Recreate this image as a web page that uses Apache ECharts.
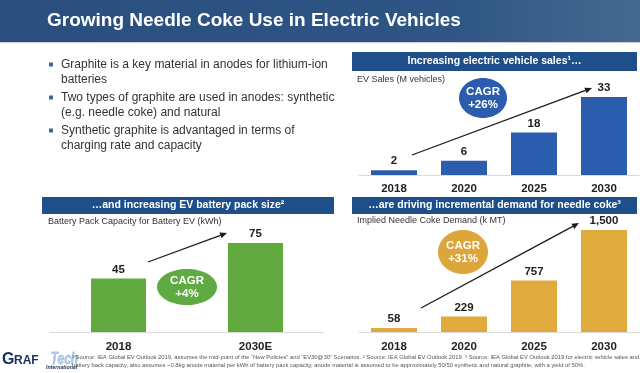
<!DOCTYPE html>
<html><head><meta charset="utf-8">
<script src="https://cdn.jsdelivr.net/npm/echarts@6/dist/echarts.min.js"></script>
<style>html,body{margin:0;padding:0;background:#fff}#c{width:640px;height:373px}</style>
</head><body><div id="c"></div>
<script>
// ---- data ----
const evYears = ['2018','2020','2025','2030'];
const evSales = [2, 6, 18, 33];
const packYears = ['2018','2030E'];
const packKwh = [45, 75];
const cokeYears = ['2018','2020','2025','2030'];
const cokeDemand = [58, 229, 757, 1500];
const evCagr = '+26%';
const packCagr = '+4%';
const cokeCagr = '+31%';
const bullets = [
  ['Graphite is a key material in anodes for lithium-ion', 'batteries'],
  ['Two types of graphite are used in anodes: synthetic', '(e.g. needle coke) and natural'],
  ['Synthetic graphite is advantaged in terms of', 'charging rate and capacity']
];
const footnote1 = '\u00b9 Source: IEA Global EV Outlook 2019, assumes the mid-point of the \u201cNew Policies\u201d and \u201cEV30@30\u201d Scenarios. \u00b2 Source: IEA Global EV Outlook 2019. \u00b3 Source: IEA Global EV Outlook 2019 for electric vehicle sales and';
const footnote2 = 'battery back capacity, also assumes ~0.8kg anode material per kWh of battery pack capacity, anode material is assumed to be approximately 50/50 synthetic and natural graphite, with a yield of 50%.';

const FONT = 'Liberation Sans, Arial, sans-serif';
const chart = echarts.init(document.getElementById('c'), null, {renderer:'canvas'});

function arrow(x1,y1,x2,y2){
  const a = Math.atan2(y2-y1,x2-x1), L=7, W=3;
  const bx = x2 - L*Math.cos(a), by = y2 - L*Math.sin(a);
  const px = -Math.sin(a)*W, py = Math.cos(a)*W;
  return [
    {type:'line', shape:{x1:x1,y1:y1,x2:bx,y2:by}, style:{stroke:'#1a1a1a', lineWidth:1.3}},
    {type:'polygon', shape:{points:[[x2,y2],[bx+px,by+py],[bx-px,by-py]]}, style:{fill:'#1a1a1a'}}
  ];
}
function header(x,y,w,h,text){
  return [
    {type:'rect', shape:{x:x,y:y,width:w,height:h}, style:{fill:'#1f4f8b'}},
    {type:'text', x:x+w/2, y:y+h/2, style:{text:text, fill:'#fff', font:'bold 10.5px '+FONT, textAlign:'center', textVerticalAlign:'middle'}}
  ];
}
function ellipse(cx,cy,rx,ry,color,val){
  return [
    {type:'ellipse', shape:{cx:cx,cy:cy,rx:rx,ry:ry}, style:{fill:color}},
    {type:'text', x:cx, y:cy-6.5, style:{text:'CAGR', fill:'#fff', font:'bold 11.5px '+FONT, textAlign:'center', textVerticalAlign:'middle'}},
    {type:'text', x:cx, y:cy+7, style:{text:val, fill:'#fff', font:'bold 11.5px '+FONT, textAlign:'center', textVerticalAlign:'middle'}}
  ];
}

const g = [];
// title banner
g.push({type:'rect', shape:{x:0,y:0,width:640,height:42}, style:{fill:new echarts.graphic.LinearGradient(0,0,1,0,[{offset:0,color:'#2a4f7e'},{offset:0.7,color:'#2e5584'},{offset:1,color:'#46698f'}])}});
g.push({type:'rect', shape:{x:0,y:42,width:640,height:1}, style:{fill:'#c9d0d9'}});
g.push({type:'text', x:47, y:21, style:{text:'Growing Needle Coke Use in Electric Vehicles', fill:'#fff', font:'bold 19px '+FONT, textVerticalAlign:'middle'}});
// bullets
const lineY = [[65,80],[98,113],[131,146]];
bullets.forEach((b,i)=>{
  g.push({type:'rect', shape:{x:49,y:lineY[i][0]-2.5,width:4,height:4}, style:{fill:'#3c66a3'}});
  b.forEach((t,j)=>g.push({type:'text', x:61, y:lineY[i][j], style:{text:t, fill:'#333', font:'12px '+FONT, textVerticalAlign:'middle'}}));
});
// section headers
g.push(...header(352,52,285,19,'Increasing electric vehicle sales\u00b9\u2026'));
g.push(...header(42,197,292,17,'\u2026and increasing EV battery pack size\u00b2'));
g.push(...header(352,197,285,17,'\u2026are driving incremental demand for needle coke\u00b3'));
// subtitles
g.push({type:'text', x:357, y:80, style:{text:'EV Sales (M vehicles)', fill:'#333', font:'9px '+FONT, textVerticalAlign:'middle'}});
g.push({type:'text', x:48, y:222, style:{text:'Battery Pack Capacity for Battery EV (kWh)', fill:'#333', font:'9px '+FONT, textVerticalAlign:'middle'}});
g.push({type:'text', x:357, y:221, style:{text:'Implied Needle Coke Demand (k MT)', fill:'#333', font:'9px '+FONT, textVerticalAlign:'middle'}});
// arrows & ellipses
g.push(...arrow(412,155,592,88));
g.push(...ellipse(483,98,24,20,'#2b5cad',evCagr));
g.push(...arrow(148,262,227,233));
g.push(...ellipse(187,287,30,18,'#5fab41',packCagr));
g.push(...arrow(421,308,579,223));
g.push(...ellipse(463,252,25,22,'#dca63a',cokeCagr));
// logo
g.push({type:'text', x:2, y:360, style:{text:'G', fill:'#1b2f5c', font:'900 16px '+FONT, textVerticalAlign:'middle'}});
g.push({type:'text', x:14, y:361, style:{text:'RAF', fill:'#1b2f5c', font:'900 12px '+FONT, textVerticalAlign:'middle'}});
g.push({type:'text', x:39, y:359, scaleX:0.7, originX:39, originY:359, style:{text:'Tech', fill:'#b3cbe6', stroke:'#6f93bd', lineWidth:0.5, font:'italic bold 17px '+FONT, textVerticalAlign:'middle'}});
g.push({type:'text', x:46, y:368, style:{text:'International', fill:'#1b2f5c', font:'italic bold 5.2px '+FONT, textVerticalAlign:'middle'}});
// footnotes
g.push({type:'text', x:72, y:357, style:{text:footnote1, fill:'#555', font:'5.85px '+FONT, textVerticalAlign:'middle'}});
g.push({type:'text', x:72, y:365, style:{text:footnote2, fill:'#555', font:'5.85px '+FONT, textVerticalAlign:'middle'}});

const barLabel = {show:true, position:'top', distance:3, color:'#222', fontFamily:FONT, fontWeight:'bold', fontSize:11.5};
const xCommon = {type:'category', axisTick:{show:false}, axisLine:{lineStyle:{color:'#d9d9d9', width:1}},
  axisLabel:{color:'#222', fontFamily:FONT, fontWeight:'bold', fontSize:11.5, margin:8}};
const yCommon = {type:'value', min:0, show:false, splitLine:{show:false}};

chart.setOption({
  animation:false,
  grid:[
    {left:359, width:280, top:80.5, height:94.5},
    {left:50, width:274, top:213.3, height:118.7},
    {left:359, width:280, top:196, height:136}
  ],
  xAxis:[
    Object.assign({gridIndex:0, data:evYears}, xCommon),
    Object.assign({gridIndex:1, data:packYears}, xCommon, {axisLabel:Object.assign({}, xCommon.axisLabel, {margin:9})}),
    Object.assign({gridIndex:2, data:cokeYears}, xCommon, {axisLabel:Object.assign({}, xCommon.axisLabel, {margin:9})})
  ],
  yAxis:[
    Object.assign({gridIndex:0, max:40}, yCommon),
    Object.assign({gridIndex:1, max:100}, yCommon),
    Object.assign({gridIndex:2, max:2000}, yCommon)
  ],
  series:[
    {type:'bar', xAxisIndex:0, yAxisIndex:0, data:evSales, barWidth:46, itemStyle:{color:'#2b5cad'}, label:barLabel},
    {type:'bar', xAxisIndex:1, yAxisIndex:1, data:packKwh, barWidth:55, itemStyle:{color:'#62aa3f'}, label:barLabel},
    {type:'bar', xAxisIndex:2, yAxisIndex:2, data:cokeDemand, barWidth:46, itemStyle:{color:'#e0aa3c'},
      label:Object.assign({}, barLabel, {formatter:p=>p.value.toLocaleString('en-US')})}
  ],
  graphic:{elements:g}
});
</script></body></html>
